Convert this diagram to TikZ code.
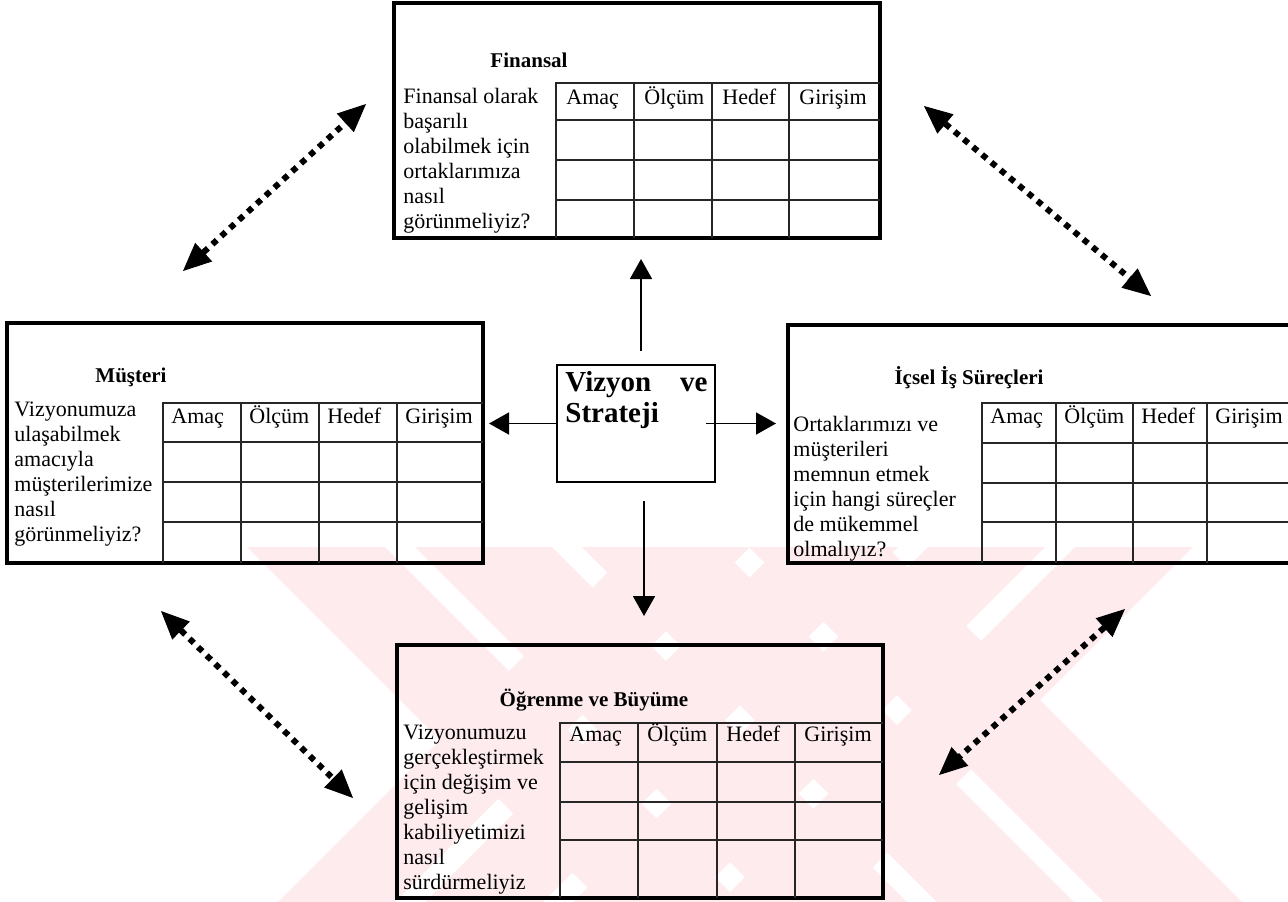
\documentclass[tikz,border=0pt]{standalone}
\usepackage{fontspec}
\setmainfont{Liberation Serif}
\usetikzlibrary{arrows.meta,calc}
\definecolor{markpink}{RGB}{253,235,238}

\begin{document}
\begin{tikzpicture}[x=0.5pt, y=-0.5pt,
		frame/.style={draw, line width=2pt, inner sep=0pt},
		cell/.style={line width=0.6pt, black!85},
		title/.style={font=\fontsize{10.5}{12.5}\selectfont\bfseries, inner sep=0pt},
		ask/.style={font=\fontsize{11}{12.5}\selectfont, anchor=north west, inner sep=0pt, align=left},
		head/.style={font=\fontsize{11}{12.5}\selectfont, anchor=base west, inner sep=0pt},
		link/.style={line width=0.85pt, -{Triangle[length=10pt, width=11pt]}},
		pair/.style={line width=3pt, dash pattern=on 3pt off 3pt,
			{Triangle[length=14pt, width=12.5pt, line width=0.5pt]}-{Triangle[length=14pt, width=12.5pt, line width=0.5pt]}}]
		\useasboundingbox (0,0) rectangle (1288,901);

		%% Watermark stripes behind everything
		\begin{scope}
			\clip (0,547) rectangle (1288,901);
			\foreach \a/\b in {-340/-202,-172/-35,-5/132,162/300}
				\fill[markpink] ({500-(\a)},500) -- ({950-(\a)},950) -- ({950-(\b)},950) -- ({500-(\b)},500) -- cycle;
			\foreach \a/\b in {1180/1297,1327/1445,1475/1592,1622/1740}
				\fill[markpink] ({\a-500},500) -- ({\a-950},950) -- ({\b-950},950) -- ({\b-500},500) -- cycle;
		\end{scope}

		% Finansal
		\node[frame, minimum width=243pt, minimum height=117.5pt] (fin) at (637,120.5) {};
		\node[title] (finT) at (529,60) {Finansal};
		\node[ask] (finQ) at (403,88) {Finansal olarak\\başarılı\\olabilmek için\\ortaklarımıza\\nasıl\\görünmeliyiz?};
		\draw[cell] (556,238) -- (556,83) -- (880,83);
		\foreach \x in {634,712,789} \draw[cell] (\x,83) -- (\x,238);
		\foreach \y in {120,160,200} \draw[cell] (556,\y) -- (880,\y);
		\foreach \x/\t [count=\i] in {556/Amaç,634/Ölçüm,712/Hedef,789/Girişim}
			\node[head] (finH\i) at (\x+10,104) {\t};

		% Musteri
		\node[frame, minimum width=238pt, minimum height=120pt] (cust) at (245,443) {};
		\node[title] (custT) at (131,377) {Müşteri};
		\node[ask] (custQ) at (14,402) {Vizyonumuza\\ulaşabilmek\\amacıyla\\müşterilerimize\\nasıl\\görünmeliyiz?};
		\draw[cell] (163,563) -- (163,403) -- (483,403);
		\foreach \x in {241,319,397} \draw[cell] (\x,403) -- (\x,563);
		\foreach \y in {442,482,522} \draw[cell] (163,\y) -- (483,\y);
		\foreach \x/\t [count=\i] in {163/Amaç,241/Ölçüm,319/Hedef,397/Girişim}
			\node[head] (custH\i) at (\x+8,423) {\t};

		% Icsel is surecleri
		\node[frame, minimum width=252pt, minimum height=119pt] (proc) at (1040,444) {};
		\node[title] (procT) at (969,378) {İçsel İş Süreçleri};
		\node[ask] (procQ) at (793,416) {Ortaklarımızı ve\\müşterileri\\memnun etmek\\için hangi süreçler\\de mükemmel\\olmalıyız?};
		\draw[cell] (982,563) -- (982,403) -- (1292,403);
		\foreach \x in {1056,1133,1207} \draw[cell] (\x,403) -- (\x,563);
		\foreach \y in {443,483,522} \draw[cell] (982,\y) -- (1292,\y);
		\foreach \x/\t [count=\i] in {982/Amaç,1056/Ölçüm,1133/Hedef,1207/Girişim}
			\node[head] (procH\i) at (\x+8,423) {\t};

		% Ogrenme ve buyume
		\node[frame, minimum width=243pt, minimum height=126.5pt] (learn) at (640,771.5) {};
		\node[title] (learnT) at (594,700) {Öğrenme ve Büyüme};
		\node[ask] (learnQ) at (403,725) {Vizyonumuzu\\gerçekleştirmek\\için değişim ve\\gelişim\\kabiliyetimizi\\nasıl\\sürdürmeliyiz};
		\draw[cell] (560,898) -- (560,723) -- (883,723);
		\foreach \x in {638,717,795} \draw[cell] (\x,723) -- (\x,898);
		\foreach \y in {762,802,840} \draw[cell] (560,\y) -- (883,\y);
		\foreach \x/\t [count=\i] in {560/Amaç,638/Ölçüm,717/Hedef,795/Girişim}
			\node[head] (learnH\i) at (\x+9,741) {\t};

		%% Vizyon ve strateji in the middle
		\node[draw, line width=0.8pt, minimum width=79pt, minimum height=58.5pt, inner sep=0pt] (vision) at (636,423.5) {};
		\node[font=\fontsize{14.5}{15.5}\selectfont\bfseries, anchor=north west, inner sep=0pt,
			text width=71pt, align=left] (visionT) at (565,371) {Vizyon\hfill ve\\Strateji};

		% arrows out of the middle
		\draw[link, shorten <=6.5pt, shorten >=9.5pt] ($(vision.north)+(5,0)$) -- ($(vision.north |- fin.south)+(5,0)$);
		\draw[link, shorten <=9pt, shorten >=13.5pt] ($(vision.south)+(8,0)$) -- ($(vision.south |- learn.north)+(8,0)$);
		\draw[link, shorten <=-5pt, shorten >=5pt] (vision.east) -- (vision.east -| proc.west);
		\draw[link, shorten >=2pt] (vision.west) -- (vision.west -| cust.east);

		% dotted two-way arrows between the four boxes
		\coordinate (fc1) at (183,271); \coordinate (fc2) at (366,104);
		\coordinate (fp1) at (924,106); \coordinate (fp2) at (1151,296);
		\coordinate (cl1) at (161,611); \coordinate (cl2) at (353,798);
		\coordinate (pl1) at (1125,609); \coordinate (pl2) at (939,775);
		\draw[pair] (fc1) -- (fc2);
		\draw[pair] (fp1) -- (fp2);
		\draw[pair] (cl1) -- (cl2);
		\draw[pair] (pl1) -- (pl2);
	\end{tikzpicture}
\end{document}
